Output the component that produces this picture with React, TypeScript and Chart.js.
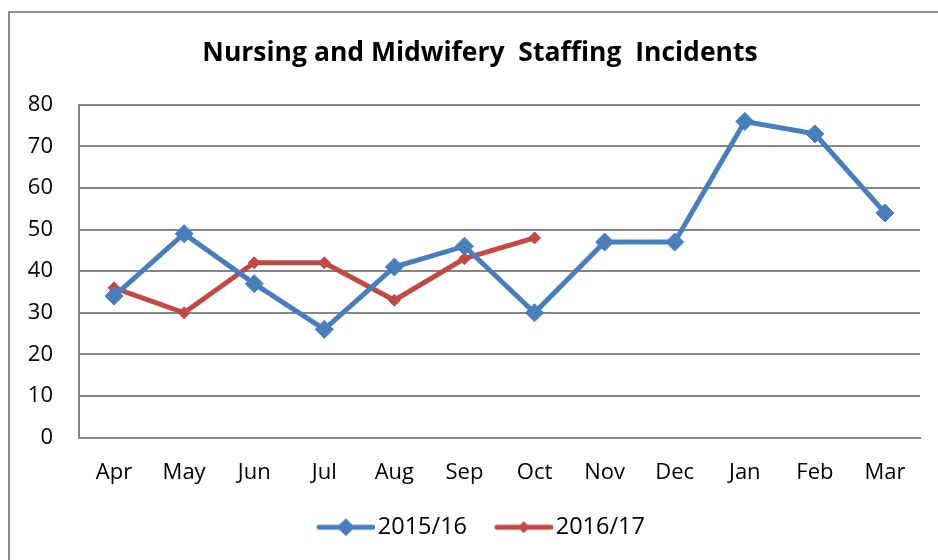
import React, { useEffect, useRef } from "react";
import { Chart, registerables } from "chart.js";

Chart.register(...registerables);

const months = ["Apr", "May", "Jun", "Jul", "Aug", "Sep", "Oct", "Nov", "Dec", "Jan", "Feb", "Mar"];
const series1516 = [34, 49, 37, 26, 41, 46, 30, 47, 47, 76, 73, 54];
const series1617 = [36, 30, 42, 42, 33, 43, 48, null, null, null, null, null];
const seriesNames = ["2015/16", "2016/17"];
const seriesColors = ["#4A7EBB", "#BE4B48"];
const yMin = 0;
const yMax = 80;
const yStep = 10;
const titleText = "Nursing and Midwifery  Staffing  Incidents";

const FONT = "'Open Sans', 'Liberation Sans', sans-serif";
const GRID = "#868686";

// legend icon: line + diamond, offset inside a wider transparent canvas
function legendIcon(color: string, r: number): HTMLCanvasElement {
  const c = document.createElement("canvas");
  c.width = 84;
  c.height = 22;
  const ctx = c.getContext("2d")!;
  const x0 = 28.5;
  const x1 = 82;
  const cx = (x0 + x1) / 2;
  ctx.strokeStyle = color;
  ctx.lineWidth = 5;
  ctx.lineCap = "round";
  ctx.beginPath();
  ctx.moveTo(x0, 11);
  ctx.lineTo(x1, 11);
  ctx.stroke();
  ctx.fillStyle = color;
  ctx.beginPath();
  ctx.moveTo(cx - r, 11);
  ctx.lineTo(cx, 11 - r);
  ctx.lineTo(cx + r, 11);
  ctx.lineTo(cx, 11 + r);
  ctx.closePath();
  ctx.fill();
  return c;
}

const frame = {
  id: "frame",
  beforeDraw(chart: any) {
    const ctx = chart.ctx;
    ctx.save();
    ctx.fillStyle = "#ffffff";
    ctx.fillRect(0, 0, chart.width, chart.height);
    ctx.fillStyle = "#8c8c8c";
    ctx.fillRect(8, 11, chart.width - 8, 2);
    ctx.fillRect(8, 11, 2, chart.height - 11);
    ctx.restore();
  },
  afterLayout(chart: any) {
    if (chart.legend) {
      chart.legend.left -= 8;
      chart.legend.right -= 8;
    }
  },
};

export default function App() {
  const ref = useRef<HTMLCanvasElement>(null);
  useEffect(() => {
    const icons = [legendIcon(seriesColors[0], 9), legendIcon(seriesColors[1], 6)];
    const chart = new Chart(ref.current!, {
      type: "line",
      data: {
        labels: months,
        datasets: [
          {
            label: seriesNames[0],
            data: series1516,
            borderColor: seriesColors[0],
            backgroundColor: seriesColors[0],
            borderWidth: 5,
            pointStyle: "rectRot",
            pointRadius: 9,
            pointBorderWidth: 1,
            tension: 0,
          },
          {
            label: seriesNames[1],
            data: series1617,
            borderColor: seriesColors[1],
            backgroundColor: seriesColors[1],
            borderWidth: 5,
            pointStyle: "rectRot",
            pointRadius: 6,
            pointBorderWidth: 1,
            tension: 0,
          },
        ],
      },
      options: {
        responsive: false,
        animation: false,
        layout: { padding: { left: 40, right: 18, top: 0, bottom: 11 } },
        plugins: {
          title: {
            display: true,
            text: titleText,
            color: "#000",
            font: { family: FONT, size: 26.5, weight: "bold" },
            padding: { top: 38, bottom: 35 },
          },
          legend: {
            position: "bottom",
            labels: {
              usePointStyle: true,
              pointStyleWidth: 67,
              color: "#000",
              font: { family: FONT, size: 23.5 },
              padding: 10,
              generateLabels: () =>
                seriesNames.map((n, i) => ({
                  text: n,
                  pointStyle: icons[i] as any,
                  fillStyle: seriesColors[i],
                  strokeStyle: seriesColors[i],
                  lineWidth: 0,
                  hidden: false,
                  datasetIndex: i,
                  fontColor: "#000",
                })),
            },
          },
          tooltip: { enabled: false },
        },
        scales: {
          x: {
            offset: true,
            grid: { display: false, drawTicks: false },
            border: { display: true, color: GRID, width: 2 },
            ticks: { color: "#000", font: { family: FONT, size: 22 }, padding: 22, maxRotation: 0 },
            afterFit: (s: any) => {
              s.height = 68;
              s._computeLabelArea = () => undefined;
            },
          },
          y: {
            min: yMin,
            max: yMax,
            ticks: { stepSize: yStep, color: "#000", font: { family: FONT, size: 22 }, padding: 26 },
            grid: { color: GRID, lineWidth: 2, drawTicks: false },
            border: { display: true, color: GRID, width: 2 },
            afterFit: (s: any) => {
              s.width = 39;
              s._computeLabelArea = () => undefined;
            },
          },
        },
      },
      plugins: [frame],
    });
    return () => chart.destroy();
  }, []);
  return (
    <div style={{ position: "fixed", left: 0, top: 0, width: 938, height: 560 }}>
      <canvas ref={ref} width={938} height={560} style={{ display: "block" }} />
    </div>
  );
}
